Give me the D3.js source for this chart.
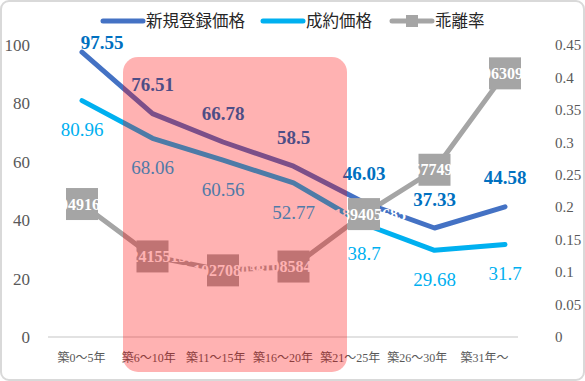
<!DOCTYPE html>
<html><head><meta charset="utf-8">
<script src="https://cdn.jsdelivr.net/npm/d3@7"></script>
<style>body{margin:0;background:#fff}svg{display:block}</style>
</head><body>
<svg id="c" width="585" height="381"></svg>
<script>
const categories = ["築0～5年","築6～10年","築11～15年","築16～20年","築21～25年","築26～30年","築31年～"];
const newListing = [97.55, 76.51, 66.78, 58.5, 46.03, 37.33, 44.58];
const contract = [80.96, 68.06, 60.56, 52.77, 38.7, 29.68, 31.7];
const gapRate = [0.204916008, 0.124155157, 0.102708058, 0.108584423, 0.189405685, 0.257749326, 0.406309148];
const leftTicks = [0, 20, 40, 60, 80, 100];
const rightTicks = [0, 0.05, 0.1, 0.15, 0.2, 0.25, 0.3, 0.35, 0.4, 0.45];
const seriesNames = ["新規登録価格", "成約価格", "乖離率"];

const svg = d3.select("#c");
const serif = "'Liberation Serif', 'DejaVu Serif', serif";
const cjk = "'Liberation Serif', 'Noto Sans CJK JP', sans-serif";

svg.append("rect").attr("x",1).attr("y",1).attr("width",583).attr("height",379)
  .attr("rx",8).attr("fill","#fff").attr("stroke","#d9d9d9").attr("stroke-width",2);

const yL = d3.scaleLinear().domain([0,100]).range([337,45]);
const yR = d3.scaleLinear().domain([0,0.45]).range([337,45]);
const xBand = d3.scaleBand().domain(categories).range([48,518]);
const xP = d3.scalePoint().domain(categories).range([82,505]);

// axis line
svg.append("line").attr("x1",48).attr("x2",518).attr("y1",337).attr("y2",337)
  .attr("stroke","#d9d9d9").attr("stroke-width",1.5);

// left ticks
svg.selectAll(".lt").data(leftTicks).join("text")
  .attr("x",30).attr("y",d=>yL(d)).attr("dy","0.35em").attr("text-anchor","end")
  .attr("font-family",serif).attr("font-size",17).attr("fill","#595959").text(d=>d);
// right ticks
svg.selectAll(".rt").data(rightTicks).join("text")
  .attr("x",555).attr("y",d=>yR(d)).attr("dy","0.35em").attr("text-anchor","start")
  .attr("font-family",serif).attr("font-size",15).attr("fill","#595959").text(d=>d);
// x labels
svg.selectAll(".xl").data(categories).join("text")
  .attr("x",d=>xBand(d)+xBand.bandwidth()/2).attr("y",358).attr("dy","0.35em").attr("text-anchor","middle")
  .attr("font-family",cjk).attr("font-size",12).attr("fill","#595959").text(d=>d);

const line = (ys, scale) => d3.line().x((d,i)=>xP(categories[i])).y(d=>scale(d))(ys);

svg.append("path").attr("d",line(gapRate,yR)).attr("fill","none").attr("stroke","#a5a5a5")
  .attr("stroke-width",5).attr("stroke-linejoin","round").attr("stroke-linecap","round");
svg.append("path").attr("d",line(contract,yL)).attr("fill","none").attr("stroke","#00b0f0")
  .attr("stroke-width",5).attr("stroke-linejoin","round").attr("stroke-linecap","round");
svg.append("path").attr("d",line(newListing,yL)).attr("fill","none").attr("stroke","#4472c4")
  .attr("stroke-width",5).attr("stroke-linejoin","round").attr("stroke-linecap","round");

// markers
svg.selectAll(".mk").data(gapRate).join("rect")
  .attr("x",(d,i)=>xP(categories[i])-16).attr("y",d=>yR(d)-16)
  .attr("width",32).attr("height",32).attr("fill","#a5a5a5");

// labels new listing
svg.selectAll(".nl").data(newListing).join("text")
  .attr("x",(d,i)=>xP(categories[i]) + (i===0?20:0))
  .attr("y",(d,i)=>Math.max(yL(d)-29, 42)).attr("dy","0.35em").attr("text-anchor","middle")
  .attr("font-family",serif).attr("font-weight","bold").attr("font-size",19).attr("fill","#0070c0").text(d=>d);
// labels contract
svg.selectAll(".cl").data(contract).join("text")
  .attr("x",(d,i)=>xP(categories[i])).attr("y",d=>yL(d)+29).attr("dy","0.35em").attr("text-anchor","middle")
  .attr("font-family",serif).attr("font-size",19).attr("fill","#00b0f0").text(d=>d);
// labels gap
svg.selectAll(".gl").data(gapRate).join("text")
  .attr("x",(d,i)=>xP(categories[i])).attr("y",d=>yR(d)).attr("dy","0.35em").attr("text-anchor","middle")
  .attr("font-family",serif).attr("font-weight","bold").attr("font-size",16).attr("fill","#fff").text(d=>d);

// highlight box
svg.append("rect").attr("x",123).attr("y",57).attr("width",224).attr("height",315).attr("rx",15)
  .attr("fill","#ff0000").attr("fill-opacity",0.3);

// legend
const lg = svg.append("g");
const items = [{x:103,c:"#4472c4",m:false},{x:263,c:"#00b0f0",m:false},{x:392,c:"#a5a5a5",m:true}];
items.forEach((it,i)=>{
  lg.append("line").attr("x1",it.x).attr("x2",it.x+40).attr("y1",21).attr("y2",21)
    .attr("stroke",it.c).attr("stroke-width",5).attr("stroke-linecap","round");
  if(it.m) lg.append("rect").attr("x",it.x+14).attr("y",15).attr("width",12).attr("height",12).attr("fill",it.c);
  lg.append("text").attr("x",it.x+43).attr("y",21).attr("dy","0.36em")
    .attr("font-family","'Noto Sans CJK JP', sans-serif").attr("font-size",16.5).attr("fill","#262626").text(seriesNames[i]);
});
</script>
</body></html>
